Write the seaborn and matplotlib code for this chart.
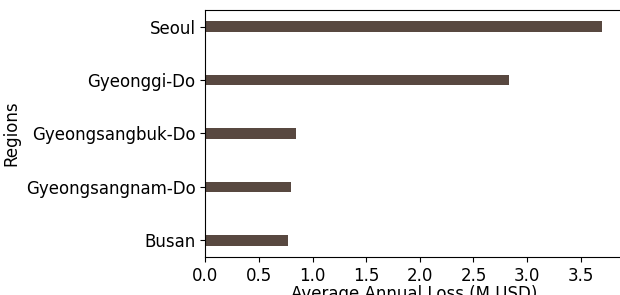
import pandas as pd
import matplotlib
matplotlib.use('Agg')
import matplotlib.pyplot as plt
import seaborn as sns

# Values
regions = ['Seoul', 'Gyeonggi-Do', 'Gyeongsangbuk-Do', 'Gyeongsangnam-Do', 'Busan']
annual_loss = [3.70, 2.83, 0.85, 0.80, 0.77]

df = pd.DataFrame({'Regions': regions, 'Average Annual Loss (M USD)': annual_loss})

sns.set_style('white')
plt.rcParams['font.family'] = ['DejaVu Sans']
plt.rcParams['text.color'] = 'black'
plt.rcParams['axes.labelcolor'] = 'black'
plt.rcParams['xtick.color'] = 'black'
plt.rcParams['ytick.color'] = 'black'

fig = plt.figure(figsize=(6.2, 2.95), dpi=100)
ax = fig.add_axes([0.331, 0.129, 0.675, 0.837])

sns.barplot(data=df, y='Regions', x='Average Annual Loss (M USD)', orient='h',
            color='#584840', saturation=1, width=0.2, linewidth=0, ax=ax)

ax.set_ylim(4.31, -0.31)
ax.set_xlim(0, 3.90)
ax.set_xticks([0, 0.5, 1.0, 1.5, 2.0, 2.5, 3.0, 3.5])
ax.tick_params(axis='both', labelsize=12, length=3.5, width=0.8, left=True, bottom=True)
ax.set_xlabel('Average Annual Loss (M USD)', fontsize=12, labelpad=0)
ax.set_ylabel('Regions', fontsize=12)
for s in ax.spines.values():
    s.set_color('black')
    s.set_linewidth(0.8)

fig.savefig('out.png', dpi=100)
